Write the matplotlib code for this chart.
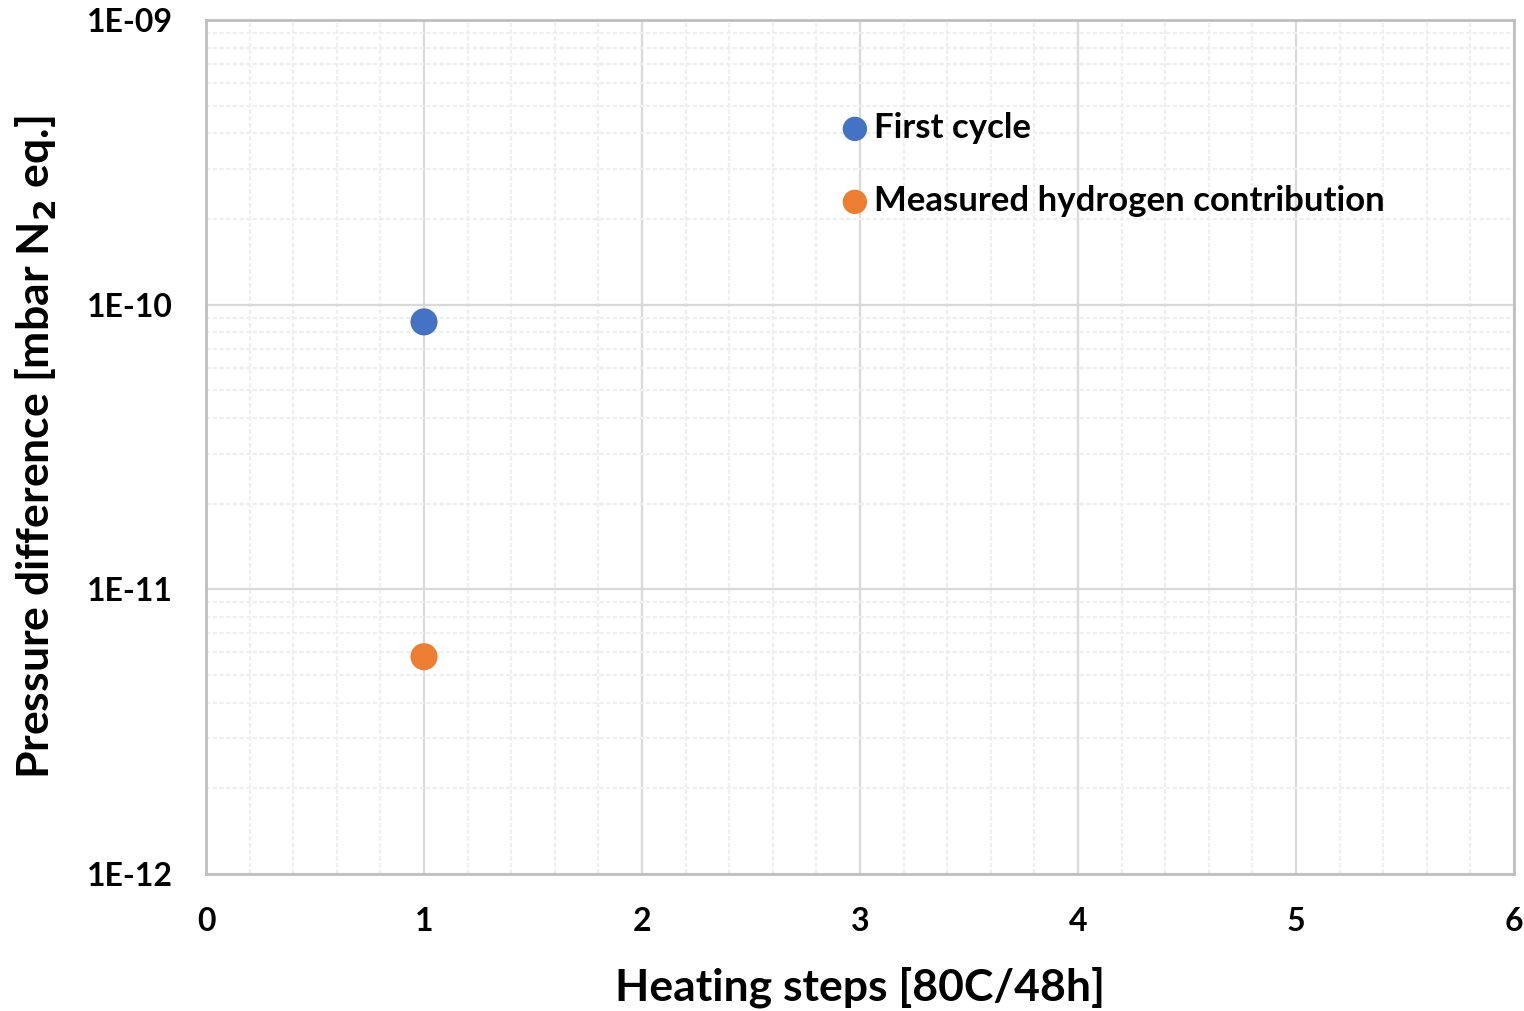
import matplotlib
matplotlib.use("Agg")
import matplotlib.pyplot as plt
from matplotlib.ticker import LogLocator, FixedLocator, MultipleLocator, FixedFormatter, NullFormatter

plt.rcParams['font.family'] = ['Lato', 'DejaVu Sans']
plt.rcParams['font.weight'] = 'bold'

series_names = ["First cycle", "Measured hydrogen contribution"]
x_first = [1]
y_first = [8.7e-11]
x_hydrogen = [1]
y_hydrogen = [5.8e-12]
colors = ["#4472C4", "#ED7D31"]
y_ticks = [1e-12, 1e-11, 1e-10, 1e-9]
y_tick_labels = ["1E-12", "1E-11", "1E-10", "1E-09"]
x_ticks = [0, 1, 2, 3, 4, 5, 6]

fig = plt.figure(figsize=(15.24, 10.11), dpi=100)
ax = fig.add_axes([206/1524, 1-874/1011, (1514-206)/1524, (874-20)/1011])

ax.set_yscale('log')
ax.set_xlim(0, 6)
ax.set_ylim(1e-12, 1e-9)

ax.yaxis.set_major_locator(FixedLocator(y_ticks))
ax.yaxis.set_major_formatter(FixedFormatter(y_tick_labels))
ax.yaxis.set_minor_locator(LogLocator(base=10, subs=range(2, 10)))
ax.yaxis.set_minor_formatter(NullFormatter())
ax.xaxis.set_major_locator(FixedLocator(x_ticks))
ax.xaxis.set_minor_locator(MultipleLocator(0.2))

ax.grid(which='major', color='#d9d9d9', linewidth=1.6, zorder=0)
ax.grid(which='minor', color='#efefef', linewidth=1.6, linestyle=(0, (2, 1)), zorder=0)
ax.set_axisbelow(True)

for s in ax.spines.values():
    s.set_color('#bfbfbf')
    s.set_linewidth(2)

ax.tick_params(which='both', length=0)
ax.tick_params(axis='x', labelsize=23, pad=24)
ax.tick_params(axis='y', labelsize=23, pad=24)
for lab in ax.get_xticklabels() + ax.get_yticklabels():
    lab.set_fontweight('bold')

ax.scatter(x_first, y_first, s=380, color=colors[0], label=series_names[0], zorder=3, edgecolors='none')
ax.scatter(x_hydrogen, y_hydrogen, s=380, color=colors[1], label=series_names[1], zorder=3, edgecolors='none')

ax.set_xlabel("Heating steps [80C/48h]", fontsize=32, fontweight='bold', labelpad=22)
ax.set_ylabel("Pressure difference [mbar N$_\\mathbf{2}$ eq.]", fontsize=32, fontweight='bold', labelpad=20)

leg = ax.legend(loc='upper left',
                bbox_to_anchor=((841-206)/(1514-206), 1-(112-20)/(874-20)),
                frameon=False, fontsize=25, handlelength=0.8, handletextpad=0.15,
                labelspacing=1.18, markerscale=0.9, borderaxespad=0, borderpad=0)
for t in leg.get_texts():
    t.set_fontweight('bold')

fig.savefig("out.png", dpi=100)
